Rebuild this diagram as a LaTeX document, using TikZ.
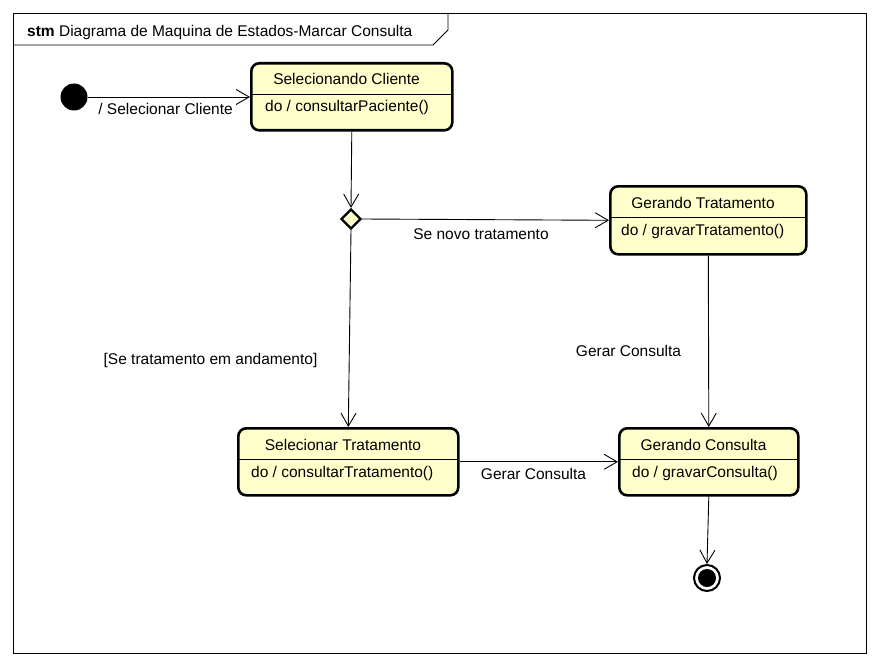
\documentclass[tikz,border=0pt]{standalone}
\usepackage{fontspec}
\setmainfont{Liberation Sans}
\usetikzlibrary{shapes.geometric}
\usetikzlibrary{arrows.meta}
\definecolor{statefill}{RGB}{255,255,204}

\begin{document}
\begin{tikzpicture}[x=1pt,y=-1pt,
    font=\fontsize{15.5}{18}\selectfont,
    state/.style={draw,line width=2.6pt,rounded corners=8pt,fill=statefill,inner sep=0pt},
    trans/.style={line width=0.9pt,-{Straight Barb[length=13pt,width=15pt]}},
    lbl/.style={inner sep=0pt,anchor=base}]
    \useasboundingbox (0,0) rectangle (880,666);
    % frame
    \draw[line width=0.9pt] (13,13) rectangle (866,653);
    \draw[line width=0.9pt] (13,45) -- (433,45) -- (448,30) -- (448,13);
    \node[lbl,anchor=base west] (ttl) at (27,36.5) {\textbf{stm} Diagrama de Maquina de Estados-Marcar Consulta};
    % states: name / left / top / width / height / title / body / body x
    \foreach \nm/\xl/\yt/\w/\h/\ttl/\body/\bx in {%
        selcli/250/62/201/67/{Selecionando Cliente}/{do / consultarPaciente()}/265,%
        gertrat/609/185/196/68/{Gerando Tratamento}/{do / gravarTratamento()}/621,%
        seltrat/237/427/220/67/{Selecionar Tratamento}/{do / consultarTratamento()}/251,%
        gercons/618/427/179/67/{Gerando Consulta}/{do / gravarConsulta()}/632}{
        \node[state,minimum width=\w,minimum height=\h,anchor=north west] (\nm) at (\xl,\yt) {};
        \node[lbl] (\nm-t) at (\xl+\w/2-4,\yt+23) {\ttl};
        \draw[line width=0.9pt] (\xl,\yt+32) -- (\xl+\w,\yt+32);
        \node[lbl,anchor=base west] (\nm-b) at (\bx,\yt+50) {\body};
    }
    % pseudostates
    \node[circle,fill=black,minimum size=27pt,inner sep=0pt] (ini) at (74,97) {};
    \node[diamond,draw,line width=2.2pt,fill=statefill,minimum width=20pt,minimum height=20pt,inner sep=0pt] (dec) at (351,219) {};
    \node[circle,draw,line width=2pt,minimum size=26pt,inner sep=0pt] (fim) at (707,578) {};
    \node[circle,fill=black,minimum size=18pt,inner sep=0pt] (fimc) at (fim) {};
    % transitions
    \draw[trans] (ini) -- (ini -| selcli.west);
    \draw[trans] (selcli.south) -- (dec.north);
    \draw[trans] (dec.east) -- (gertrat.west);
    \draw[trans] (dec.south) -- (seltrat.north);
    \draw[trans] (gertrat.south) -- (gercons.north);
    \draw[trans] (seltrat.east) -- (gercons.west);
    \draw[trans] (gercons.south) -- (fim.north);
    \node[lbl,anchor=base east] (l1) at (233,115) {/ Selecionar Cliente};
    \node[lbl] (l2) at (481,239) {Se novo tratamento};
    \node[lbl] (l3) at (210.5,364) {[Se tratamento em andamento]};
    \node[lbl] (l4) at (628.5,356) {Gerar Consulta};
    \node[lbl] (l5) at (533.5,479) {Gerar Consulta};
\end{tikzpicture}
\end{document}
